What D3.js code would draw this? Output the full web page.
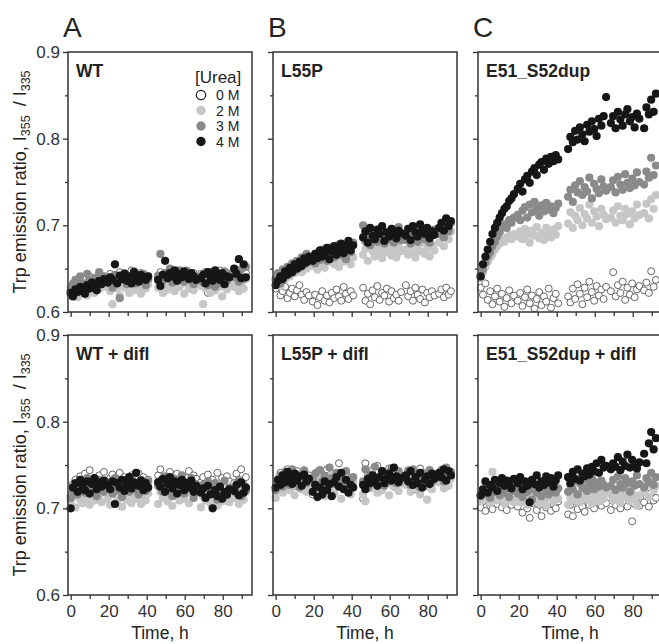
<!doctype html>
<html lang="en">
<head>
<meta charset="utf-8">
<title>Trp emission ratio vs time</title>
<script src="https://d3js.org/d3.v7.min.js"></script>
<style>
  body { margin: 0; background: #fff; }
  text { font-family: "Liberation Sans", Arial, sans-serif; fill: #222; }
</style>
</head>
<body>
<script>
// sampling times (h), shared by all series
var times = [
  0, 1.2, 2.5, 3.7, 5, 6.2, 7.5, 8.7, 10, 11.2, 12.5, 13.7, 15, 16.2, 17.5,
  19.5, 20.8, 22, 23.3, 24.5, 25.8, 27, 28.3, 29.5, 30.8, 32, 33.3, 34.5, 35.8, 37, 38.3, 39.5, 40.8,
  46, 47.2, 48.5, 49.7, 51, 52.2, 53.5, 54.7, 56, 57.2, 58.5, 59.7, 61, 62.2, 63.5, 64.7, 66,
  68.5, 69.7, 71, 72.2, 73.5, 74.7, 76, 77.2, 78.5, 79.7, 81, 82.2, 83.5,
  86, 87.2, 88.5, 89.7, 91, 92.2
];

var ureaLabels = ["0 M", "2 M", "3 M", "4 M"];
var panelNames = ["WT", "L55P", "E51_S52dup", "WT + difl", "L55P + difl", "E51_S52dup + difl"];
var panelLetters = ["A", "B", "C"];
var xMajor = [0, 20, 40, 60, 80];
var xMinor = [10, 30, 50, 70, 90];
var yMajor = [0.6, 0.7, 0.8, 0.9];
var yMinor = [0.65, 0.75, 0.85];

// emission ratio I355/I335, values x 1000
// WT
var wt0 = [628,633,625,636,630,639,627,634,641,631,637,629,643,635,640,
  638,644,633,641,636,646,631,639,643,635,648,637,642,634,645,639,636,641,
  640,646,635,643,638,649,641,633,645,639,644,636,648,642,637,645,640,
  644,636,641,622,646,639,643,635,648,640,637,645,642,
  643,638,647,640,651,645];
var wt2 = [620,626,631,617,628,624,633,619,627,635,622,630,626,638,629,
  631,624,609,635,627,619,633,628,636,622,630,625,637,629,621,634,627,632,
  628,635,622,631,626,638,630,624,636,629,633,621,640,627,634,625,632,
  630,609,627,634,622,631,625,637,629,618,633,626,635,
  629,636,624,633,627,638];
var wt3 = [624,631,637,627,641,633,629,644,636,630,639,632,646,635,641,
  634,640,628,643,636,616,639,645,632,641,637,647,633,640,636,644,631,638,
  642,667,636,645,639,650,634,643,637,648,641,635,646,639,644,632,641,
  640,634,646,631,643,637,629,645,639,633,647,636,642,
  640,646,635,649,638,652];
var wt4 = [622,618,626,623,629,625,621,631,627,634,629,625,636,632,638,
  634,640,637,655,633,642,638,644,636,641,633,646,639,635,643,640,637,641,
  637,630,643,659,639,645,641,648,636,644,640,647,642,638,645,641,637,
  639,643,633,646,640,636,648,642,637,645,632,641,640,
  650,644,661,639,655,640];

// L55P
var l55p0 = [627,632,619,624,629,616,622,627,618,625,631,620,614,623,619,
  612,620,608,617,624,613,619,611,622,616,626,618,613,629,621,615,624,619,
  628,613,621,609,625,617,630,614,622,619,627,612,624,616,620,613,623,
  631,618,624,613,628,620,615,626,611,622,617,624,619,
  621,626,617,628,620,624];
var l55p2 = [636,642,630,646,638,649,641,652,645,648,654,646,657,650,659,
  653,660,649,663,656,651,664,658,667,655,661,652,665,658,669,661,655,663,
  666,673,659,677,670,664,675,668,662,674,669,677,665,671,663,676,670,
  672,666,678,669,663,675,670,680,667,673,664,677,671,
  680,688,676,691,684,693];
var l55p3 = [638,645,633,649,641,652,644,656,648,659,651,663,655,667,658,
  662,656,668,660,672,665,659,670,675,663,669,678,666,673,661,676,669,680,
  700,682,690,677,686,693,681,689,696,679,688,684,692,680,687,698,683,
  683,690,679,694,686,681,697,688,684,692,680,689,695,
  690,697,686,700,693,703];
var l55p4 = [631,636,641,638,647,643,651,646,655,650,658,653,662,657,664,
  659,667,662,671,664,668,674,661,670,676,666,673,679,668,675,682,671,677,
  686,693,680,697,688,684,695,690,699,682,692,687,696,689,685,694,691,
  688,696,683,699,692,687,701,694,690,697,685,693,689,
  697,703,694,708,699,705];

// E51_S52dup
var dup0 = [628,620,633,614,624,609,618,627,612,621,606,616,625,610,619,
  613,622,607,617,626,610,619,604,615,623,608,618,612,627,605,616,621,610,
  618,611,627,615,632,621,609,628,617,635,623,613,630,619,626,615,629,
  624,646,618,631,622,635,614,628,620,633,617,626,630,
  625,634,622,647,629,637];
var dup2 = [639,646,652,658,663,667,672,676,679,683,681,686,688,684,690,
  687,693,684,696,689,680,694,688,698,685,691,683,697,690,686,695,689,699,
  702,715,697,711,706,720,700,713,708,724,703,716,710,699,719,712,707,
  709,717,703,722,711,706,719,713,701,716,708,724,712,
  714,725,708,730,719,735];
var dup3 = [641,649,657,664,669,676,681,687,692,698,701,697,706,703,709,
  712,706,717,721,709,724,715,727,719,711,723,716,726,718,722,714,720,725,
  733,741,727,746,738,751,735,744,739,755,731,748,742,737,753,745,740,
  744,752,738,756,747,741,759,749,743,754,746,761,750,
  747,762,755,778,758,769];
var dup4 = [641,655,664,672,681,690,697,703,709,714,719,722,728,731,736,
  742,748,739,753,757,749,762,766,758,770,773,764,777,771,779,774,781,776,
  788,802,796,809,799,813,805,797,816,808,820,811,803,823,815,826,848,
  818,826,812,831,822,815,828,834,820,825,813,829,823,
  812,836,828,845,831,852];

// WT + difl
var wtD0 = [715,728,733,722,737,726,740,731,744,729,735,724,738,730,742,
  727,735,739,723,733,741,728,736,720,731,738,725,734,740,729,736,722,733,
  738,745,729,736,724,742,733,727,740,731,737,722,735,743,730,738,734,
  730,736,725,739,721,733,728,741,726,735,723,737,731,
  729,740,733,745,727,736];
var wtD2 = [708,713,701,718,710,706,721,712,704,717,709,723,714,707,719,
  711,704,716,721,708,713,702,718,710,724,706,715,711,720,705,714,709,717,
  705,719,712,726,708,716,703,721,714,709,723,711,717,706,720,713,718,
  701,714,709,720,706,716,711,703,718,708,715,712,707,
  712,719,705,722,710,724];
var wtD3 = [712,720,726,716,731,723,718,735,727,721,730,714,733,725,719,
  724,730,717,735,721,727,713,732,725,719,736,722,729,716,733,726,720,731,
  726,732,719,737,723,729,714,734,725,721,738,717,730,724,735,712,728,
  720,727,713,731,722,717,729,710,725,719,732,715,724,
  722,718,731,714,727,720];
var wtD4 = [700,724,729,719,733,726,721,731,717,728,735,722,730,725,732,
  727,722,731,705,729,724,733,720,728,736,723,730,741,726,732,721,729,724,
  730,725,734,719,728,736,723,731,717,727,733,721,729,724,732,719,726,
  718,723,712,726,716,700,721,714,725,711,719,716,722,
  720,727,715,730,718,724];

// L55P + difl
var l55pD0 = [724,733,741,728,737,745,730,739,726,743,735,729,744,732,738,
  716,734,742,727,738,731,745,723,736,740,729,752,733,727,739,724,735,730,
  711,752,738,727,744,732,749,720,736,742,729,746,734,725,741,733,738,
  737,744,728,740,722,735,746,731,739,726,743,733,738,
  735,742,729,746,733,740];
var l55pD2 = [712,724,731,718,736,727,721,733,715,729,739,722,734,719,728,
  725,718,732,721,737,714,729,723,740,717,731,726,711,734,722,728,716,730,
  716,708,734,723,739,727,718,736,721,742,730,715,733,725,738,720,729,
  727,738,719,733,724,741,716,729,735,710,731,722,736,
  730,737,723,741,726,734];
var l55pD3 = [721,730,738,725,742,733,727,745,731,739,724,736,743,729,735,
  733,740,726,744,731,737,722,747,735,728,741,730,738,725,743,732,727,736,
  731,745,724,739,733,748,728,736,742,726,740,731,746,735,729,743,737,
  734,742,727,745,731,738,724,741,729,736,744,730,739,
  736,744,731,747,738,742];
var l55pD4 = [724,733,727,738,730,742,735,728,740,732,737,726,739,731,734,
  719,727,713,724,716,731,721,728,714,730,736,725,741,722,733,718,727,724,
  727,722,734,729,738,731,726,736,743,729,735,740,732,747,737,730,735,
  738,731,743,727,736,729,741,724,733,737,728,740,734,
  741,736,745,732,743,738];

// E51_S52dup + difl
var dupD0 = [701,708,697,712,703,699,710,705,714,701,707,698,711,704,709,
  702,708,695,713,700,689,706,711,698,704,691,709,701,713,697,705,700,708,
  693,704,691,708,699,712,702,696,710,704,715,700,707,713,703,709,706,
  698,710,704,716,700,707,713,702,709,685,705,712,703,
  707,714,702,718,709,712];
var dupD2 = [708,715,712,720,706,742,714,709,718,711,705,716,710,721,707,
  713,707,719,710,704,716,722,709,714,706,718,711,703,717,712,708,715,711,
  704,712,718,709,715,707,720,713,710,717,705,714,722,708,716,711,719,
  716,709,722,712,706,719,713,724,708,717,711,703,715,
  719,727,713,732,721,726];
var dupD3 = [714,721,717,726,712,723,719,728,715,722,718,726,713,724,720,
  717,724,713,729,719,722,710,727,718,725,714,730,720,716,726,721,718,723,
  719,727,722,731,716,729,724,733,720,728,735,722,730,725,732,727,724,
  726,733,721,737,728,724,735,729,719,731,726,738,728,
  724,735,730,741,727,736];
var dupD4 = [715,722,731,718,727,724,733,720,729,735,726,732,728,723,734,
  729,736,722,731,726,707,733,728,738,724,731,727,737,730,735,725,732,738,
  736,729,742,734,745,732,740,737,746,739,748,743,752,741,756,747,749,
  745,752,748,759,744,754,749,762,747,756,751,746,753,
  763,752,775,788,768,781];

var panelSeries = [
  [wt0, wt2, wt3, wt4], [l55p0, l55p2, l55p3, l55p4], [dup0, dup2, dup3, dup4],
  [wtD0, wtD2, wtD3, wtD4], [l55pD0, l55pD2, l55pD3, l55pD4], [dupD0, dupD2, dupD3, dupD4]
];

var width = 659, height = 644;
var colLeft = [68, 273, 478];
var rowTop = [52, 335];
var pw = 184, ph = 260;

var fills = ["#ffffff", "#c6c6c6", "#8a8a8a", "#161616"];
var strokes = ["#555", "none", "none", "none"];

var svg = d3.select("body").append("svg")
  .attr("width", width).attr("height", height);

var x = d3.scaleLinear().domain([-1.4, 95.4]).range([0, pw]);
var y = d3.scaleLinear().domain([0.6, 0.9]).range([ph, 0]);

panelNames.forEach(function(name, p) {
  var col = p % 3, row = Math.floor(p / 3);
  var g = svg.append("g")
    .attr("transform", "translate(" + colLeft[col] + "," + rowTop[row] + ")");

  // points, 0 M first so the darker series sit on top
  panelSeries[p].forEach(function(vals, s) {
    g.append("g").selectAll("circle")
      .data(vals)
      .join("circle")
      .attr("cx", function(d, i) { return x(times[i]); })
      .attr("cy", function(d) { return y(d / 1000); })
      .attr("r", s == 0 ? 3.5 : 4.1)
      .style("fill", fills[s])
      .style("stroke", strokes[s])
      .style("stroke-width", 0.9);
  });

  // frame
  g.append("rect")
    .attr("width", pw).attr("height", ph)
    .style("fill", "none").style("stroke", "#333").style("stroke-width", 1.5);

  // y axis ticks
  var yAx = g.append("g").call(d3.axisLeft(y).tickValues(yMajor).tickSize(5)
    .tickFormat(col == 0 ? d3.format(".1f") : ""));
  g.append("g").call(d3.axisLeft(y).tickValues(yMinor).tickSize(3).tickFormat(""));

  // x axis ticks
  var xAx = g.append("g").attr("transform", "translate(0," + ph + ")")
    .call(d3.axisBottom(x).tickValues(xMajor).tickSize(5)
      .tickFormat(row == 1 ? d3.format("d") : ""));
  g.append("g").attr("transform", "translate(0," + ph + ")")
    .call(d3.axisBottom(x).tickValues(xMinor).tickSize(4).tickFormat(""));

  g.selectAll(".domain").remove();
  g.selectAll(".tick line").style("stroke", "#333").style("stroke-width", 1.3);
  g.selectAll(".tick text").style("font-size", "17px").style("fill", "#333")
    .style("font-family", "Liberation Sans, Arial, sans-serif");
  yAx.selectAll(".tick text").attr("x", -8);
  xAx.selectAll(".tick text").attr("y", 10);

  // panel name
  g.append("text")
    .attr("x", 8).attr("y", 25)
    .style("font-size", "17.5px").style("font-weight", "bold")
    .text(name);

  if (row == 0) {
    svg.append("text")
      .attr("x", colLeft[col] - 5).attr("y", 37)
      .style("font-size", "28px")
      .text(panelLetters[col]);
  } else {
    g.append("text")
      .attr("x", pw / 2).attr("y", ph + 44)
      .attr("text-anchor", "middle")
      .style("font-size", "17.5px")
      .text("Time, h");
  }

  if (col == 0) {
    var t = svg.append("text")
      .attr("transform", "translate(26," + (rowTop[row] + ph / 2) + ") rotate(-90)")
      .attr("text-anchor", "middle")
      .style("font-size", "18px");
    t.append("tspan").text("Trp emission ratio, I");
    t.append("tspan").attr("dy", 4).style("font-size", "12.5px").text("355");
    t.append("tspan").attr("dy", -4).text("\u2002/ I");
    t.append("tspan").attr("dy", 4).style("font-size", "12.5px").text("335");
  }
});

// legend in panel A
var leg = svg.append("g").attr("transform", "translate(195,0)");
leg.append("text").attr("x", 0).attr("y", 83)
  .style("font-size", "17px").text("[Urea]");
ureaLabels.forEach(function(lab, s) {
  var ly = 95 + s * 15.5;
  leg.append("circle")
    .attr("cx", 6).attr("cy", ly).attr("r", 4.7)
    .style("fill", fills[s]).style("stroke", s == 0 ? "#222" : "none")
    .style("stroke-width", 1.2);
  leg.append("text").attr("x", 21).attr("y", ly + 5)
    .style("font-size", "14px").text(lab);
});
</script>
</body>
</html>
